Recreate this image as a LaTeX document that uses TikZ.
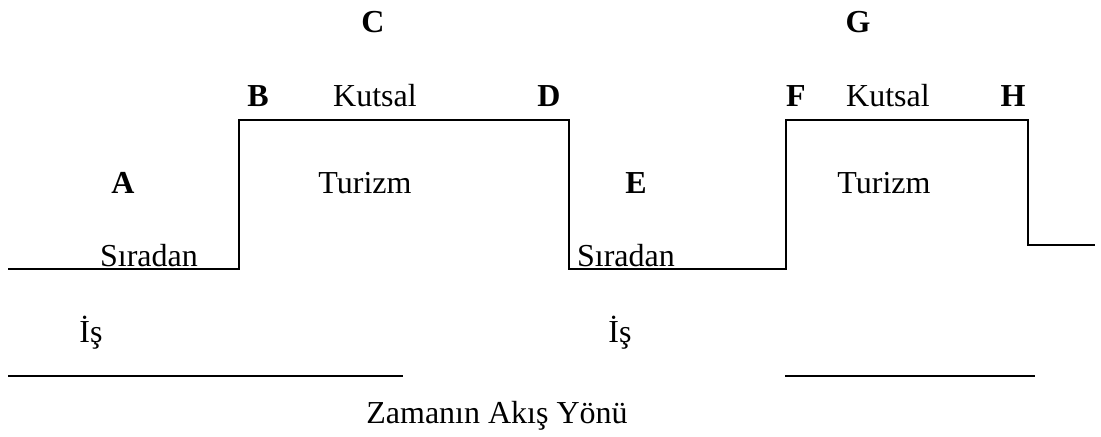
\documentclass[tikz,border=0pt]{standalone}
\usepackage{fontspec}
\setmainfont{Liberation Serif}

\tikzset{
  lbl/.style = {font = \fontsize{12}{14}\selectfont, anchor = base,
    inner sep = 0pt},
  letter/.style = {lbl, font = \fontsize{12}{14}\selectfont\bfseries}
}

\begin{document}
\begin{tikzpicture}[x = 0.375pt, y = -0.375pt, line width = 0.75pt]
  \useasboundingbox (0, 0) rectangle (1101, 437);

  % the time line, up and down between work and sacred time
  \draw (8, 269) -- (239, 269) -- (239, 120) -- (569, 120) -- (569, 269)
  -- (786, 269) -- (786, 120) -- (1028, 120) -- (1028, 245) -- (1095, 245);

  \draw (8, 376) -- (403, 376);
  \draw (785, 376) -- (1035, 376);

  \node[letter] (C) at (373, 33) {C};
  \node[letter] (G) at (858, 33) {G};

  \node[letter] (B) at (258, 107) {B};
  \node[lbl] (kutsal1) at (375, 107) {Kutsal};
  \node[letter] (D) at (549, 107) {D};
  \node[letter] (F) at (796, 107) {F};
  \node[lbl] (kutsal2) at (888, 107) {Kutsal};
  \node[letter] (H) at (1013, 107) {H};

  \node[letter] (A) at (123, 194) {A};
  \node[lbl] (turizm1) at (365, 194) {Turizm};
  \node[letter] (E) at (636, 194) {E};
  \node[lbl] (turizm2) at (884, 194) {Turizm};

  \node[lbl] (siradan1) at (149, 267) {Sıradan};
  \node[lbl] (siradan2) at (626, 267) {Sıradan};

  \node[lbl] (is1) at (91, 343) {İş};
  \node[lbl] (is2) at (620, 343) {İş};

  \node[lbl] (yon) at (497, 424) {Zamanın Akış Yönü};
\end{tikzpicture}
\end{document}
